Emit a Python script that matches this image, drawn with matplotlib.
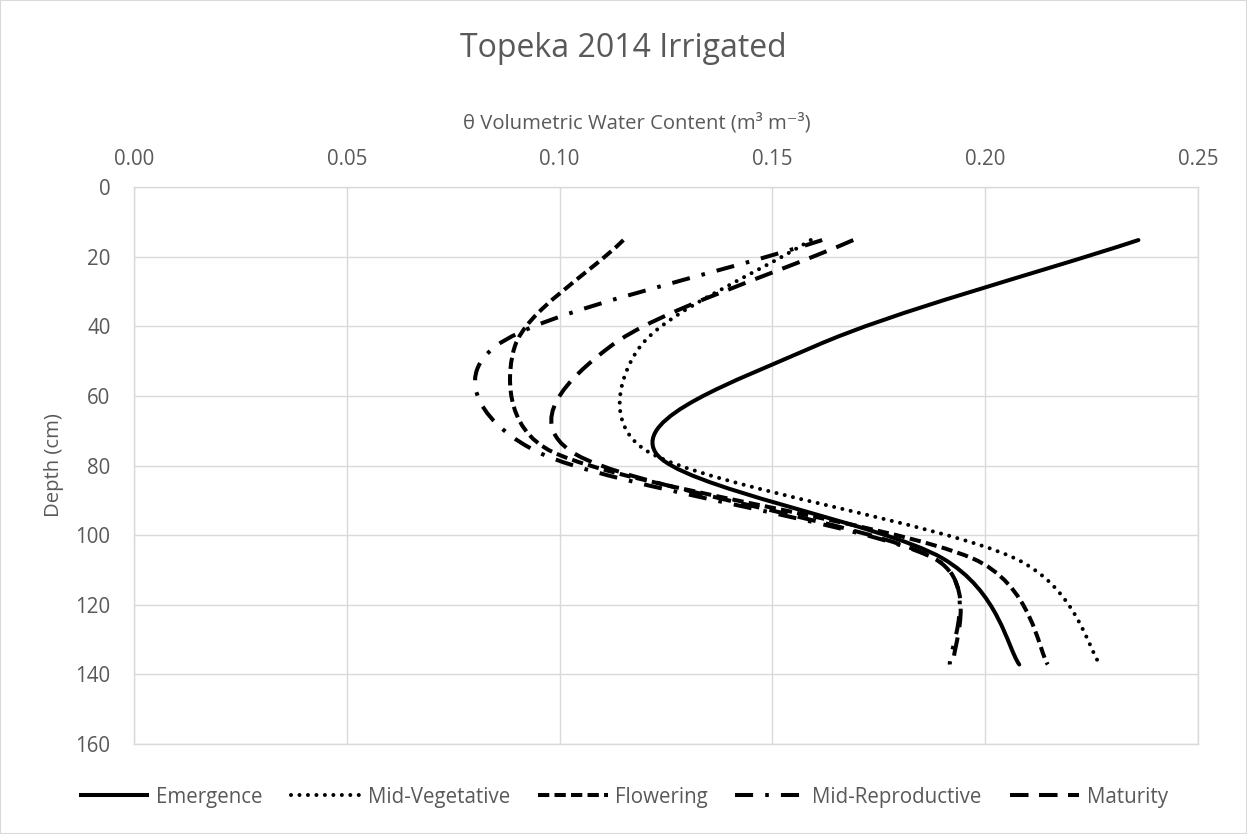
import numpy as np
import matplotlib.pyplot as plt
from matplotlib.path import Path
from matplotlib.patches import PathPatch, Rectangle
from matplotlib.lines import Line2D

plt.rcParams['font.family'] = ['Open Sans', 'DejaVu Sans']
plt.rcParams['lines.scale_dashes'] = False

# sampling depths (cm) and water content per growth stage
depth = [15.24, 45.72, 76.2, 106.68, 137.16]
emergence = [0.236, 0.160, 0.1225, 0.190, 0.208]
mid_vegetative = [0.159, 0.119, 0.121, 0.207, 0.227]
flowering = [0.115, 0.0895, 0.0985, 0.197, 0.2147]
mid_reproductive = [0.1617, 0.085, 0.095, 0.188, 0.1917]
maturity = [0.169, 0.112, 0.103, 0.188, 0.1925]

labels = ['Emergence', 'Mid-Vegetative', 'Flowering', 'Mid-Reproductive', 'Maturity']
series = [emergence, mid_vegetative, flowering, mid_reproductive, maturity]

TEXT = '#595959'
GRID = '#d9d9d9'


def excel_controls(p0, p1, p2, p3, first, last):
    """control points of one segment, the way Excel smooths a line (screen space)"""
    d02 = np.hypot(*(p2 - p0))
    d12 = np.hypot(*(p2 - p1))
    d13 = np.hypot(*(p3 - p1))
    if d02 / 6 < d12 / 2 and d13 / 6 < d12 / 2:
        f1 = 1 / 3 if first else 1 / 6
        f2 = 1 / 3 if last else 1 / 6
        b1 = p1 + (p2 - p0) * f1
        b2 = p2 - (p3 - p1) * f2
    elif d02 / 6 >= d12 / 2 and d13 / 6 >= d12 / 2:
        b1 = p1 + (p2 - p0) * (d12 / 2 / d02)
        b2 = p2 - (p3 - p1) * (d12 / 2 / d13)
    elif d02 / 6 >= d12 / 2:
        b1 = p1 + (p2 - p0) * (d12 / 2 / d02)
        b2 = p2 - (p3 - p1) * (d12 / 2 / d13) * (d13 / d02)
    else:
        b1 = p1 + (p2 - p0) * (d12 / 2 / d02) * (d02 / d13)
        b2 = p2 - (p3 - p1) * (d12 / 2 / d13)
    return b1, b2


def smooth_path(ax, x, y):
    trans = ax.transData
    p = trans.transform(np.column_stack([x, y]))
    n = len(p)
    verts = [p[0]]
    codes = [Path.MOVETO]
    for i in range(n - 1):
        p0 = p[max(i - 1, 0)]
        p3 = p[min(i + 2, n - 1)]
        b1, b2 = excel_controls(p0, p[i], p[i + 1], p3, i == 0, i == n - 2)
        verts += [b1, b2, p[i + 1]]
        codes += [Path.CURVE4] * 3
    verts = trans.inverted().transform(np.array(verts))
    return Path(verts, codes)


lw = 2.9  # ~4 px
w = lw
styles = [
    dict(linestyle='-', capstyle='round'),
    dict(linestyle=(0, (0.01, 2.1 * w)), capstyle='round'),
    dict(linestyle=(0, (2.8 * w, 1.3 * w)), capstyle='butt'),
    dict(linestyle=(0, (4.5 * w, 3 * w, 0.9 * w, 3 * w)), capstyle='butt'),
    dict(linestyle=(0, (4.6 * w, 2.6 * w)), capstyle='butt'),
]

fig = plt.figure(figsize=(12.47, 8.34), dpi=100)
ax = fig.add_axes([134 / 1247, 90 / 834, 1064 / 1247, 557 / 834])
ax.set_xlim(0, 0.25)
ax.set_ylim(160, 0)

handles = []
for vals, lab, st in zip(series, labels, styles):
    patch = PathPatch(smooth_path(ax, vals, depth), fill=False, edgecolor='black',
                      linewidth=lw, linestyle=st['linestyle'],
                      capstyle=st['capstyle'], joinstyle='round')
    ax.add_patch(patch)
    handles.append(Line2D([], [], color='black', linewidth=lw,
                          linestyle=st['linestyle'],
                          dash_capstyle=st['capstyle'],
                          solid_capstyle='butt', label=lab))

ax.set_xticks(np.arange(0, 0.2501, 0.05))
ax.set_yticks(np.arange(0, 161, 20))
ax.xaxis.tick_top()
ax.xaxis.set_major_formatter(plt.FuncFormatter(lambda v, _: f'{v:.2f}'))
ax.tick_params(length=0, labelsize=14.8, colors=TEXT)
ax.tick_params(axis='x', pad=12)
ax.tick_params(axis='y', pad=17)
ax.grid(True, color=GRID, linewidth=1.0)
ax.set_axisbelow(True)
for s in ax.spines.values():
    s.set_color(GRID)
    s.set_linewidth(1.0)

ax.set_xlabel('θ Volumetric Water Content (m³ m⁻³)', fontsize=14.6, color=TEXT)
ax.xaxis.label.set_va('baseline')
ax.xaxis.set_label_coords((637 - 134) / 1064, (744 - 128) / 557)
ax.set_ylabel('Depth (cm)', fontsize=14.6, color=TEXT)
ax.yaxis.label.set_va('center')
ax.yaxis.set_label_coords((54 - 134) / 1064, 0.5)

fig.text(0.5, 1 - 57 / 834, 'Topeka 2014 Irrigated', ha='center', va='baseline',
         fontsize=23, color=TEXT)

fig.legend(handles=handles, loc='center', bbox_to_anchor=(0.5, 1 - 797 / 834),
           ncol=5, frameon=False, fontsize=14.8, handlelength=3.4,
           handletextpad=0.35, columnspacing=1.35, labelcolor=TEXT)

fig.patches.append(Rectangle((0, 0), 1, 1, transform=fig.transFigure, fill=False,
                             edgecolor=GRID, linewidth=1.5))

fig.savefig('out.png', dpi=100)
